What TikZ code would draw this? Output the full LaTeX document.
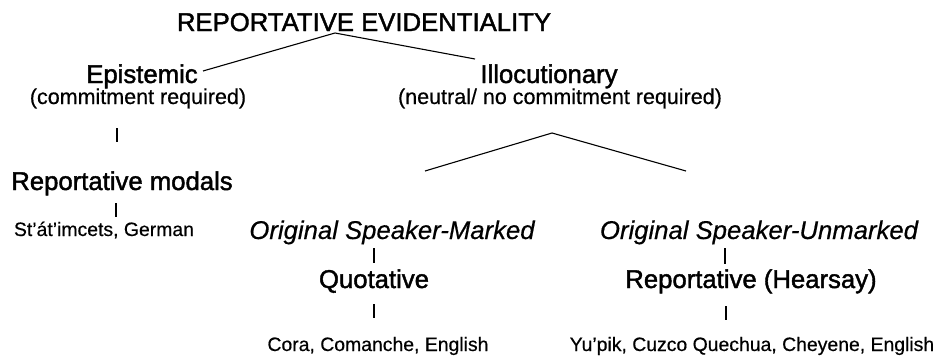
\documentclass[tikz,border=0pt]{standalone}
\usepackage{fontspec}
\setmainfont{Liberation Sans}
\newfontfamily\headfont{Liberation Sans}[FakeBold=1.6]
\newfontfamily\notefont{Liberation Sans}[FakeBold=0.5]
\tikzstyle{heading} = [anchor=base, inner sep=0pt, font=\headfont\fontsize{25.7}{30}\selectfont]
\tikzstyle{subtype} = [anchor=base, inner sep=0pt, font=\notefont\fontsize{25.7}{30}\selectfont\itshape]
\tikzstyle{gloss} = [anchor=base, inner sep=0pt, font=\notefont\fontsize{21.5}{25}\selectfont]
\tikzstyle{langs} = [anchor=base, inner sep=0pt, font=\notefont\fontsize{19.4}{23}\selectfont]
\tikzstyle{branch} = [line width=1.1pt]
\tikzstyle{tick} = [line width=1.2pt]

\begin{document}
\begin{tikzpicture}[x=1pt, y=-1pt]
        \useasboundingbox (0,0) rectangle (940,356);

        % top of the tree
        \node (title) [heading] at (364,31) {REPORTATIVE EVIDENTIALITY};
        \coordinate (title_root) at (335,33);

        % epistemic side
        \node (epistemic) [heading] at (142,83) {Epistemic};
        \node (epistemic_gloss) [gloss] at (138,104) {(commitment required)};
        \node (modals) [heading] at (122,190) {Reportative modals};
        \node (modals_langs) [langs] at (104,236) {St’át’imcets, German};

        % illocutionary side
        \node (illocutionary) [heading] at (549,83) {Illocutionary};
        \node (illocutionary_gloss) [gloss] at (560,104) {(neutral/ no commitment required)};
        \coordinate (illocutionary_root) at (552,133);
        \node (marked) [subtype] at (392,239) {Original Speaker-Marked};
        \node (quotative) [heading] at (374,288) {Quotative};
        \node (quotative_langs) [langs] at (378,351) {Cora, Comanche, English};
        \node (unmarked) [subtype] at (759,239) {Original Speaker-Unmarked};
        \node (hearsay) [heading] at (751,288) {Reportative (Hearsay)};
        \node (hearsay_langs) [langs] at (752,351) {Yu’pik, Cuzco Quechua, Cheyene, English};

        % ends of the branches and ticks
        \coordinate (epistemic_end) at (203,71);
        \coordinate (illocutionary_end) at (475,59);
        \coordinate (marked_end) at (425,171);
        \coordinate (unmarked_end) at (686,171);
        \coordinate (tick1a) at (117,128);
        \coordinate (tick1b) at (117,142);
        \coordinate (tick2a) at (116,203);
        \coordinate (tick2b) at (116,217);
        \coordinate (tick3a) at (374,248);
        \coordinate (tick3b) at (374,263);
        \coordinate (tick4a) at (374,304);
        \coordinate (tick4b) at (374,318);
        \coordinate (tick5a) at (725,248);
        \coordinate (tick5b) at (725,264);
        \coordinate (tick6a) at (726,306);
        \coordinate (tick6b) at (726,320);

        \draw [branch] (epistemic_end) -- (title_root) -- (illocutionary_end);
        \draw [branch] (marked_end) -- (illocutionary_root) -- (unmarked_end);
        \draw [tick] (tick1a) -- (tick1b);
        \draw [tick] (tick2a) -- (tick2b);
        \draw [tick] (tick3a) -- (tick3b);
        \draw [tick] (tick4a) -- (tick4b);
        \draw [tick] (tick5a) -- (tick5b);
        \draw [tick] (tick6a) -- (tick6b);
    \end{tikzpicture}
\end{document}
